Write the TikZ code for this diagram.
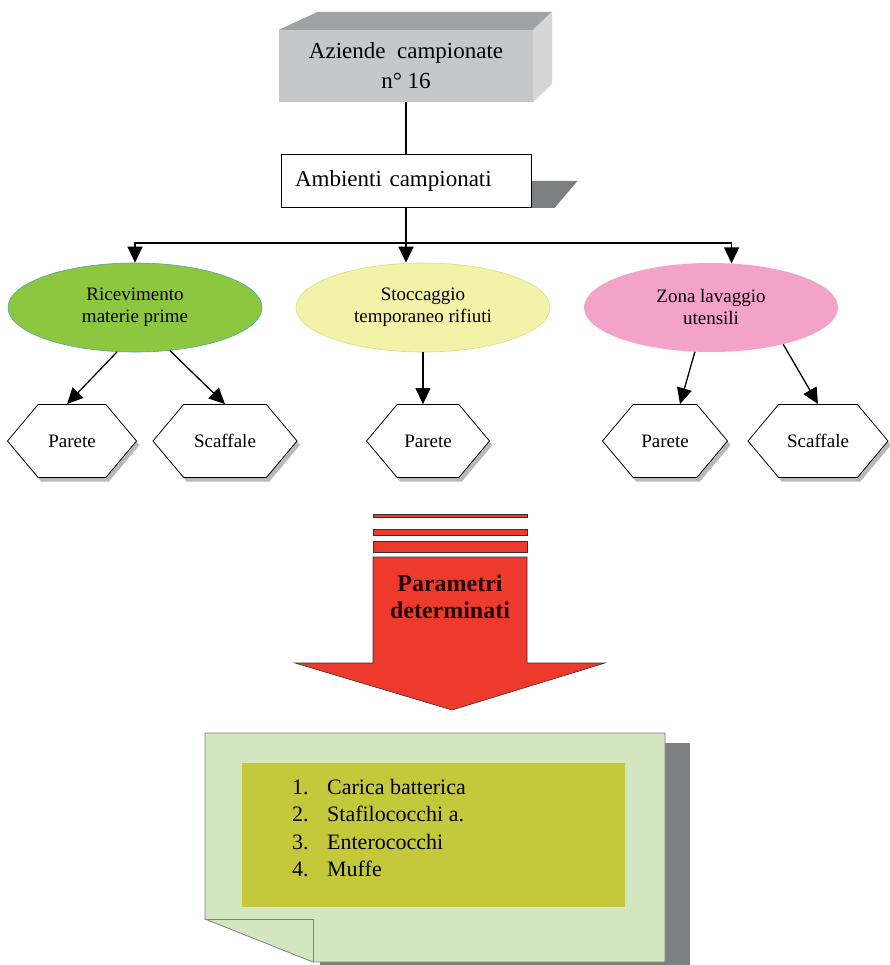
\documentclass[tikz,border=0pt]{standalone}
\usepackage{fontspec}
\setmainfont{Liberation Serif}
\usepackage{tikz}
\usetikzlibrary{calc,positioning,backgrounds,shapes.geometric,shapes.symbols,shadows,arrows.meta}
\definecolor{colorfront}{HTML}{C6C7C9}
\definecolor{colortop}{HTML}{A0A1A3}
\definecolor{colorside}{HTML}{D6D6D7}
\definecolor{colorshd}{HTML}{7C7E80}
\definecolor{colorric}{HTML}{8DC63F}
\definecolor{colorsto}{HTML}{F2F2A8}
\definecolor{colorzona}{HTML}{F2A3C7}
\definecolor{colorred}{HTML}{EE3A2C}
\definecolor{colornote}{HTML}{D3E6C1}
\definecolor{colorolive}{HTML}{C4C93C}
\tikzset{ellip/.style={ellipse, minimum width=254pt, minimum height=89pt, inner sep=0pt, align=center, font=\fontsize{19}{22}\selectfont}}
\tikzset{hexa/.style={signal, signal to=west and east, signal pointer angle=100, draw, fill=white, line width=0.8pt, minimum height=73pt, inner sep=0pt, font=\fontsize{19}{22}\selectfont, drop shadow={shadow xshift=3pt, shadow yshift=-4pt, fill=black!55}}}
\tikzset{
  edgeln/.style={black, line width=1.3pt},
  edgearr/.style={black, line width=1.3pt, -{Triangle[length=16pt,width=15pt]}}
}

\begin{document}
\begin{tikzpicture}[x=1pt, y=-1pt]
\useasboundingbox (0,0) rectangle (889,965);

% top box
\node[fill=colorfront, minimum width=254pt, minimum height=72pt, inner sep=0pt, align=center,
  font=\fontsize{23}{30}\selectfont] (az) at (406,66) {Aziende\ \ campionate\\n° 16};
\fill[colortop] (az.north west) -- ++(39,-18) -- ++(234,0) -- (az.north east) -- cycle;
\fill[colorside] (az.north east) -- ++(19,-18) -- ++(0,72) -- (az.south east) -- cycle;

\node[draw, fill=white, line width=1pt, minimum height=53pt, text width=222pt, inner xsep=14pt,
  align=left, font=\fontsize{23}{27}\selectfont] (amb) at (406,181) {Ambienti campionati};
\begin{scope}[on background layer]
\fill[colorshd] (amb.east) -- ++(46,0) -- ($(amb.south east)+(23,0)$) -- (amb.south east) -- cycle;
\end{scope}

% ambienti
\node[ellip, fill=colorric, draw=teal!70, line width=0.6pt] (ric) at (135,307.5) {Ricevimento\\materie prime};
\node[ellip, fill=colorsto, draw=colorsto!80!olive, line width=0.6pt] (sto) at (423,307.5) {Stoccaggio\\temporaneo rifiuti};
\node[ellip, fill=colorzona] (zona) at (711,307.5) {Zona lavaggio\\utensili};

\coordinate (split) at (406,243);
\draw[edgeln] (az.south) -- (amb.north);
\draw[edgeln] (amb.south) -- (split);
\draw[edgearr] (split) -| (ric.north);
\draw[edgearr] (split) -- (split |- sto.north);
\draw[edgearr] (split) -| (zona.65);

% superfici
\node[hexa, minimum width=129pt] (p1) at (72,441) {Parete};
\node[hexa, minimum width=144pt] (s1) at (225,441) {Scaffale};
\node[hexa, minimum width=123pt] (p2) at (428,441) {Parete};
\node[hexa, minimum width=125pt] (p3) at (665,441) {Parete};
\node[hexa, minimum width=140pt] (s2) at (818,441) {Scaffale};

\draw[edgearr] (ric.248) -- ($(p1.north)+(-5,0)$);
\draw[edgearr] (ric.309) -- (s1.north);
\draw[edgearr] (sto.south) -- (sto.south |- p2.north);
\draw[edgearr] (zona.250) -- ($(p3.north)+(15,0)$);
\draw[edgearr] (zona.333) -- (s2.north);

% freccia
\filldraw[fill=colorred, draw=black!80, line width=0.6pt] (373,514) rectangle (527,517);
\filldraw[fill=colorred, draw=black!80, line width=0.6pt] (373,529) rectangle (527,535);
\filldraw[fill=colorred, draw=black!80, line width=0.6pt] (373,541) rectangle (527,552);
\filldraw[fill=colorred, draw=black!80, line width=0.6pt] (373,557) -- (527,557) -- (527,663)
  -- (605,663) -- (452,710) -- (295,663) -- (373,663) -- cycle;
\node[align=center, text=black!85!red, font=\bfseries\fontsize{24}{27}\selectfont] (par) at (450,597) {Parametri\\determinati};

% parametri
\fill[colorshd] (320,743) rectangle (690,965);
\filldraw[fill=colornote, draw=gray, line width=0.8pt] (205,733) -- (665,733) -- (665,962)
  -- (313,962) -- (205,919) -- cycle;
\draw[gray, line width=0.8pt] (205,919) -- (313,919) -- (313,962);
\fill[colorolive] (242,763) rectangle (625,907);
\node[anchor=north west, inner sep=0pt, align=left, font=\fontsize{22}{27.5}\selectfont] (lista) at (292,779)
{\makebox[35pt][l]{1.}Carica batterica\\
 \makebox[35pt][l]{2.}Stafilococchi a.\\
 \makebox[35pt][l]{3.}Enterococchi\\
 \makebox[35pt][l]{4.}Muffe};
\end{tikzpicture}
\end{document}
